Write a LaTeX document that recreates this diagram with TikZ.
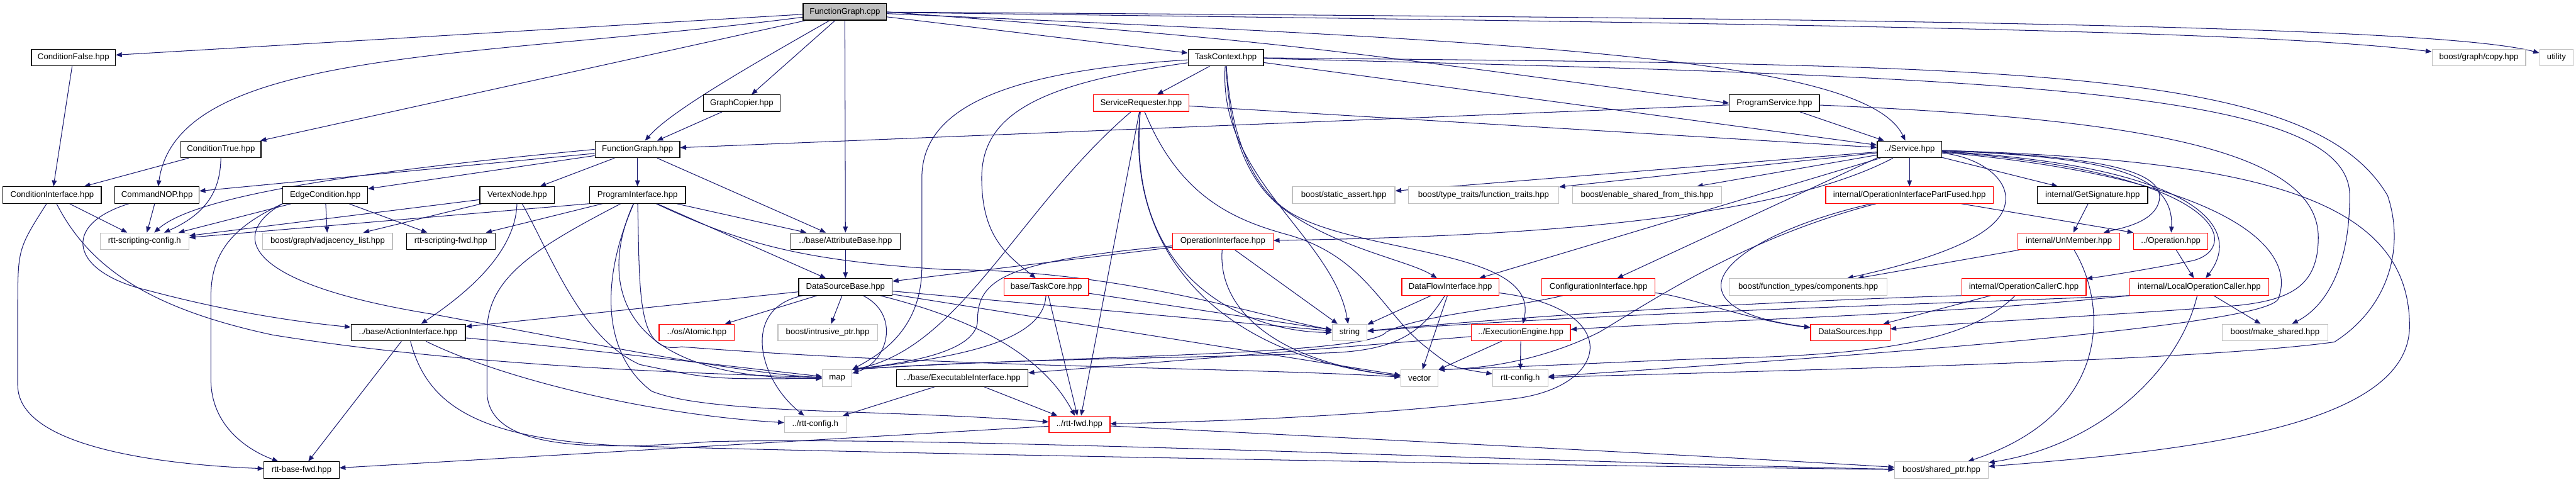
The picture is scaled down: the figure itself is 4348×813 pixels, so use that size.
\documentclass[tikz,border=0pt]{standalone}
\usepackage{fontspec}
\setmainfont{Liberation Sans}
\usetikzlibrary{arrows.meta, backgrounds}
\definecolor{linkblue}{HTML}{191970}
\definecolor{cutred}{HTML}{FF0000}
\definecolor{extgray}{HTML}{BFBFBF}
\newcommand{\filefont}{\fontsize{14pt}{16pt}\selectfont}
\tikzset{
  filebox/.style={rectangle, draw, fill=white, line width=1.3pt, minimum height=28pt, inner sep=0pt, font=\filefont},
  docfile/.style={filebox, draw=black},
  cutfile/.style={filebox, draw=cutred},
  extfile/.style={filebox, draw=extgray},
  rootfile/.style={filebox, draw=black, fill=extgray},
  incl/.style={draw=linkblue, line width=1.1pt, -{Triangle[length=10pt,width=8pt]}}
}

\begin{document}
\begin{tikzpicture}[x=1pt, y=-1pt]
  \useasboundingbox (0,0) rectangle (4348,813);
  % row 0 - 2
  \node[rootfile, minimum width=141pt] (fgcpp) at (1426,20) {FunctionGraph.cpp};
  \node[docfile, minimum width=142pt] (condfalse) at (124,97) {ConditionFalse.hpp};
  \node[docfile, minimum width=127pt] (taskctx) at (2069,97) {TaskContext.hpp};
  \node[extfile, minimum width=158pt] (graphcopy) at (4184,97) {boost/graph/copy.hpp};
  \node[extfile, minimum width=57pt] (utility) at (4315,97) {utility};
  \node[docfile, minimum width=129pt] (graphcopier) at (1252,174) {GraphCopier.hpp};
  \node[cutfile, minimum width=161pt] (servicereq) at (1926,174) {ServiceRequester.hpp};
  \node[docfile, minimum width=152pt] (progservice) at (2995,174) {ProgramService.hpp};
  % row 3 - 4
  \node[docfile, minimum width=135pt] (condtrue) at (373,252) {ConditionTrue.hpp};
  \node[docfile, minimum width=143pt] (fghpp) at (1076,252) {FunctionGraph.hpp};
  \node[docfile, minimum width=109pt] (service) at (3223,252) {../Service.hpp};
  \node[docfile, minimum width=166pt] (condiface) at (88,329) {ConditionInterface.hpp};
  \node[docfile, minimum width=142pt] (cmdnop) at (265,329) {CommandNOP.hpp};
  \node[docfile, minimum width=143pt] (edgecond) at (549,329) {EdgeCondition.hpp};
  \node[docfile, minimum width=126pt] (vertexnode) at (873,329) {VertexNode.hpp};
  \node[docfile, minimum width=162pt] (proginterface) at (1076,329) {ProgramInterface.hpp};
  \node[extfile, minimum width=173pt] (staticassert) at (2268,329) {boost/static\_assert.hpp};
  \node[extfile, minimum width=254pt] (functraits) at (2504,329) {boost/type\_traits/function\_traits.hpp};
  \node[extfile, minimum width=251pt] (enableshared) at (2780,329) {boost/enable\_shared\_from\_this.hpp};
  \node[cutfile, minimum width=283pt] (partfused) at (3223,329) {internal/OperationInterfacePartFused.hpp};
  \node[docfile, minimum width=186pt] (getsig) at (3532,329) {internal/GetSignature.hpp};
  % row 5 - 6
  \node[extfile, minimum width=150pt] (scriptcfg) at (244,407) {rtt-scripting-config.h};
  \node[extfile, minimum width=219pt] (adjlist) at (553,407) {boost/graph/adjacency\_list.hpp};
  \node[docfile, minimum width=150pt] (scriptfwd) at (761,407) {rtt-scripting-fwd.hpp};
  \node[docfile, minimum width=185pt] (attrbase) at (1427,407) {../base/AttributeBase.hpp};
  \node[cutfile, minimum width=170pt] (opiface) at (2064,407) {OperationInterface.hpp};
  \node[cutfile, minimum width=172pt] (unmember) at (3492,407) {internal/UnMember.hpp};
  \node[cutfile, minimum width=125pt] (operation) at (3664,407) {../Operation.hpp};
  \node[docfile, minimum width=158pt] (dsbase) at (1427,484) {DataSourceBase.hpp};
  \node[cutfile, minimum width=143pt] (taskcore) at (1766,484) {base/TaskCore.hpp};
  \node[cutfile, minimum width=164pt] (dataflow) at (2448,484) {DataFlowInterface.hpp};
  \node[cutfile, minimum width=191pt] (configiface) at (2698,484) {ConfigurationInterface.hpp};
  \node[extfile, minimum width=266pt] (components) at (3052,484) {boost/function\_types/components.hpp};
  \node[cutfile, minimum width=210pt] (callerc) at (3416,484) {internal/OperationCallerC.hpp};
  \node[cutfile, minimum width=234pt] (localcaller) at (3712,484) {internal/LocalOperationCaller.hpp};
  % row 7 - 10
  \node[docfile, minimum width=193pt] (actioniface) at (689,561) {../base/ActionInterface.hpp};
  \node[cutfile, minimum width=127pt] (atomic) at (1176,561) {../os/Atomic.hpp};
  \node[extfile, minimum width=168pt] (intrusive) at (1397,561) {boost/intrusive\_ptr.hpp};
  \node[extfile, minimum width=59pt] (string) at (2278,561) {string};
  \node[cutfile, minimum width=167pt] (execengine) at (2567,561) {../ExecutionEngine.hpp};
  \node[cutfile, minimum width=134pt] (datasources) at (3123,561) {DataSources.hpp};
  \node[extfile, minimum width=178pt] (makeshared) at (3840,561) {boost/make\_shared.hpp};
  \node[extfile, minimum width=50pt] (map) at (1413,638) {map};
  \node[docfile, minimum width=222pt] (execiface) at (1624,638) {../base/ExecutableInterface.hpp};
  \node[extfile, minimum width=63pt] (vector) at (2396,638) {vector};
  \node[extfile, minimum width=93pt] (rttcfg) at (2566,638) {rtt-config.h};
  \node[extfile, minimum width=104pt] (rttcfgup) at (1376,716) {../rtt-config.h};
  \node[cutfile, minimum width=103pt] (rttfwd) at (1822,716) {../rtt-fwd.hpp};
  \node[docfile, minimum width=127pt] (basefwd) at (509,793) {rtt-base-fwd.hpp};
  \node[extfile, minimum width=158pt] (sharedptr) at (3277,793) {boost/shared\_ptr.hpp};

  \begin{scope}[on background layer]
  \fill[white] (0,0) rectangle (4348,813);
  % FunctionGraph.cpp
  \draw[incl] (fgcpp) -- (condfalse);
  \draw[incl] (fgcpp) .. controls (800,100) and (300,80) .. (cmdnop);
  \draw[incl] (fgcpp) -- (condtrue);
  \draw[incl] (fgcpp) .. controls (1250,120) and (1130,190) .. (fghpp);
  \draw[incl] (fgcpp) -- (graphcopier);
  \draw[incl] (fgcpp) -- (attrbase);
  \draw[incl] (fgcpp) -- (taskctx);
  \draw[incl] (fgcpp.east) .. controls (2150,70) .. (progservice.west);
  \draw[incl] (fgcpp) .. controls (2600,70) and (3150,100) .. (service);
  \draw[incl] (fgcpp) .. controls (3000,40) and (3800,50) .. (graphcopy);
  \draw[incl] (fgcpp) .. controls (3000,30) and (4100,40) .. (utility);
  % conditions, copier, program service
  \draw[incl] (condfalse) -- (condiface);
  \draw[incl] (condtrue) -- (condiface);
  \draw[incl] (condtrue) .. controls (372,320) and (350,360) .. (scriptcfg);
  \draw[incl] (graphcopier) -- (fghpp);
  \draw[incl] (progservice) -- (fghpp);
  \draw[incl] (progservice) -- (service);
  \draw[incl] (progservice) .. controls (3600,200) and (3912,250) .. (3913,400)
    .. controls (3913,480) and (3870,505) .. (3780,515)
    .. controls (3600,530) and (3300,545) .. (datasources);
  % TaskContext
  \draw[incl] (taskctx) -- (servicereq);
  \draw[incl] (taskctx) -- (service);
  \draw[incl] (taskctx) .. controls (1700,120) and (1556,180) .. (1556,300) -- (1556,450)
    .. controls (1556,560) and (1480,600) .. (map.north east);
  \draw[incl] (taskctx) .. controls (1760,140) and (1657,190) .. (1657,300)
    .. controls (1657,400) and (1700,430) .. (taskcore);
  \draw[incl] (taskctx) .. controls (2055,300) and (2250,400) .. (string);
  \draw[incl] (taskctx) .. controls (2075,250) and (2120,320) .. (2170,355)
    .. controls (2260,420) and (2380,440) .. (dataflow);
  \draw[incl] (taskctx) .. controls (2080,260) and (2130,330) .. (2180,360)
    .. controls (2300,430) and (2600,420) .. (execengine);
  \draw[incl] (taskctx) .. controls (3400,130) and (3966,150) .. (3966,330)
    .. controls (3966,460) and (3920,520) .. (makeshared);
  \draw[incl] (taskctx) .. controls (3400,110) and (3900,110) .. (4030,330)
    .. controls (4060,420) and (4030,520) .. (3940,577)
    .. controls (3700,610) and (3000,625) .. (rttcfg);
  % ServiceRequester
  \draw[incl] (servicereq) -- (service);
  \draw[incl] (servicereq) -- (rttfwd);
  \draw[incl] (servicereq) .. controls (1720,350) and (1620,590) .. (map.north east);
  \draw[incl] (servicereq) .. controls (1900,420) and (2050,600) .. (vector);
  \draw[incl] (servicereq) .. controls (1900,470) and (2100,560) .. (string);
  \draw[incl] (servicereq) .. controls (1990,330) and (2080,370) .. (2170,395)
    .. controls (2300,430) and (2330,520) .. (2400,580)
    .. controls (2450,620) .. (rttcfg);
  % Service
  \draw[incl] (service) -- (partfused);
  \draw[incl] (service) -- (getsig);
  \draw[incl] (service) -- (staticassert);
  \draw[incl] (service) -- (functraits);
  \draw[incl] (service) -- (enableshared);
  \draw[incl] (service) .. controls (2980,380) and (2500,400) .. (opiface);
  \draw[incl] (service) -- (dataflow);
  \draw[incl] (service.south west) -- (configiface);
  \draw[incl] (service) .. controls (3500,262) and (3650,280) .. (3645,335)
    .. controls (3640,375) and (3580,385) .. (unmember);
  \draw[incl] (service) .. controls (3550,265) and (3670,290) .. (operation);
  \draw[incl] (service) .. controls (3700,280) and (3790,380) .. (localcaller);
  \draw[incl] (service) .. controls (3760,290) and (3785,420) .. (3700,440)
    .. controls (3620,455) and (3560,465) .. (callerc);
  \draw[incl] (service) .. controls (3340,265) and (3390,300) .. (3385,340)
    .. controls (3380,400) and (3250,440) .. (components);
  \draw[incl] (service) .. controls (3760,300) and (3880,420) .. (3845,505)
    .. controls (3820,545) and (3300,590) .. (rttcfg);
  \draw[incl] (service) .. controls (3800,270) and (4067,330) .. (4067,550)
    .. controls (4067,720) and (3700,760) .. (sharedptr);
  % internal headers
  \draw[incl] (getsig) -- (unmember);
  \draw[incl] (partfused) -- (operation.north west);
  \draw[incl] (operation) -- (localcaller);
  \draw[incl] (localcaller) -- (makeshared);
  \draw[incl] (unmember) -- (components);
  \draw[incl] (unmember) .. controls (3560,520) and (3560,700) .. (sharedptr);
  \draw[incl] (partfused) .. controls (3000,380) and (2900,440) .. (2905,485)
    .. controls (2910,530) and (3000,545) .. (datasources);
  \draw[incl] (partfused) .. controls (2950,400) and (2800,500) .. (2700,560)
    .. controls (2600,610) and (2500,622) .. (vector.north east);
  \draw[incl] (callerc) -- (datasources);
  \draw[incl] (callerc.south west) .. controls (3100,505) and (2700,522) .. (string);
  \draw[incl] (callerc) .. controls (3320,580) and (3150,600) .. (2880,605)
    .. controls (2700,612) and (2500,622) .. (vector.north east);
  \draw[incl] (localcaller.south west) .. controls (3300,512) and (2700,528) .. (string);
  \draw[incl] (localcaller.south west) .. controls (3300,530) and (2900,540) .. (execengine);
  \draw[incl] (localcaller) .. controls (3680,620) and (3550,750) .. (sharedptr);
  % FunctionGraph.hpp
  \draw[incl] (fghpp) -- (cmdnop);
  \draw[incl] (fghpp.west) .. controls (600,290) and (330,330) .. (scriptcfg);
  \draw[incl] (fghpp) -- (edgecond);
  \draw[incl] (fghpp) -- (vertexnode);
  \draw[incl] (fghpp) -- (proginterface);
  \draw[incl] (fghpp) -- (attrbase);
  % scripting headers
  \draw[incl] (condiface) -- (scriptcfg);
  \draw[incl] (condiface) .. controls (30,420) .. (30,520) -- (30,650)
    .. controls (30,760) and (300,785) .. (basefwd);
  \draw[incl] (condiface) .. controls (150,450) and (250,520) .. (460,565)
    .. controls (800,620) and (1200,630) .. (map);
  \draw[incl] (cmdnop) -- (scriptcfg);
  \draw[incl] (cmdnop) .. controls (100,380) and (120,460) .. (250,490)
    .. controls (400,530) and (520,545) .. (actioniface);
  \draw[incl] (edgecond) -- (scriptcfg);
  \draw[incl] (edgecond) -- (adjlist);
  \draw[incl] (edgecond) -- (scriptfwd);
  \draw[incl] (edgecond.south west) .. controls (400,380) and (356,420) .. (356,500) -- (356,640)
    .. controls (356,720) and (420,760) .. (basefwd);
  \draw[incl] (edgecond.south west) .. controls (380,400) and (420,480) .. (730,530)
    .. controls (1000,580) and (1250,630) .. (map);
  \draw[incl] (vertexnode) -- (scriptcfg);
  \draw[incl] (vertexnode) -- (adjlist);
  \draw[incl] (vertexnode) .. controls (870,430) and (780,500) .. (actioniface);
  \draw[incl] (vertexnode) .. controls (930,430) and (980,570) .. (1080,615)
    .. controls (1200,640) .. (map);
  \draw[incl] (proginterface.south west) -- (scriptcfg);
  \draw[incl] (proginterface) -- (scriptfwd);
  \draw[incl] (proginterface) -- (attrbase);
  \draw[incl] (proginterface) -- (dsbase);
  \draw[incl] (proginterface) .. controls (1020,450) and (1010,640) .. (map);
  \draw[incl] (proginterface) .. controls (1250,410) and (1350,440) .. (1600,455)
    .. controls (1900,455) and (2150,540) .. (string);
  \draw[incl] (proginterface) .. controls (1080,500) and (1075,600) .. (1150,585)
    .. controls (1600,620) and (2100,620) .. (vector);
  \draw[incl] (proginterface) .. controls (1010,480) and (1020,600) .. (1100,660)
    .. controls (1200,700) and (1500,690) .. (rttfwd);
  \draw[incl] (proginterface) .. controls (900,420) and (822,470) .. (822,560) -- (822,660)
    .. controls (822,760) and (1000,760) .. (1200,745)
    .. controls (1600,735) and (2600,780) .. (sharedptr);
  % base headers
  \draw[incl] (attrbase) -- (dsbase);
  \draw[incl] (opiface) -- (dsbase);
  \draw[incl] (dsbase) -- (actioniface);
  \draw[incl] (dsbase) -- (atomic);
  \draw[incl] (dsbase) -- (intrusive);
  \draw[incl] (dsbase) .. controls (1520,530) and (1500,610) .. (map);
  \draw[incl] (dsbase) .. controls (1250,520) and (1280,640) .. (rttcfgup);
  \draw[incl] (dsbase) .. controls (1650,540) and (1760,600) .. (rttfwd);
  \draw[incl] (dsbase) -- (string);
  \draw[incl] (dsbase) -- (vector);
  \draw[incl] (opiface) .. controls (1700,440) and (1650,470) .. (1650,540)
    .. controls (1650,600) and (1500,615) .. (map.north east);
  \draw[incl] (opiface) -- (string);
  \draw[incl] (opiface) .. controls (2055,520) and (2150,610) .. (vector);
  \draw[incl] (taskcore) -- (rttfwd);
  \draw[incl] (taskcore) -- (string);
  \draw[incl] (taskcore) .. controls (1762,580) and (1600,605) .. (map.north east);
  \draw[incl] (dataflow) -- (string);
  \draw[incl] (dataflow) -- (vector);
  \draw[incl] (dataflow) .. controls (2400,560) and (2360,590) .. (2250,595)
    .. controls (2000,605) and (1700,605) .. (map.north east);
  \draw[incl] (dataflow) .. controls (2740,520) and (2720,650) .. (2560,672)
    .. controls (2300,705) and (2000,712) .. (rttfwd);
  \draw[incl] (configiface) .. controls (2550,520) and (2400,530) .. (2340,560)
    .. controls (2310,600) and (1800,600) .. (map.north east);
  \draw[incl] (configiface) .. controls (2850,500) and (2950,540) .. (datasources);
  \draw[incl] (execengine) -- (vector);
  \draw[incl] (execengine) -- (rttcfg);
  \draw[incl] (execengine) -- (execiface);
  \draw[incl] (execiface) -- (rttfwd);
  \draw[incl] (execiface) -- (rttcfgup);
  \draw[incl] (actioniface) -- (basefwd);
  \draw[incl] (actioniface) .. controls (1000,590) and (1250,620) .. (map);
  \draw[incl] (actioniface) .. controls (850,640) and (1100,700) .. (rttcfgup);
  \draw[incl] (actioniface) .. controls (720,680) and (800,740) .. (1050,752)
    .. controls (1500,765) and (2600,785) .. (sharedptr);
  \draw[incl] (rttfwd) -- (basefwd);
  \draw[incl] (rttfwd) .. controls (2300,740) and (2900,770) .. (sharedptr);
  \end{scope}
\end{tikzpicture}
\end{document}
